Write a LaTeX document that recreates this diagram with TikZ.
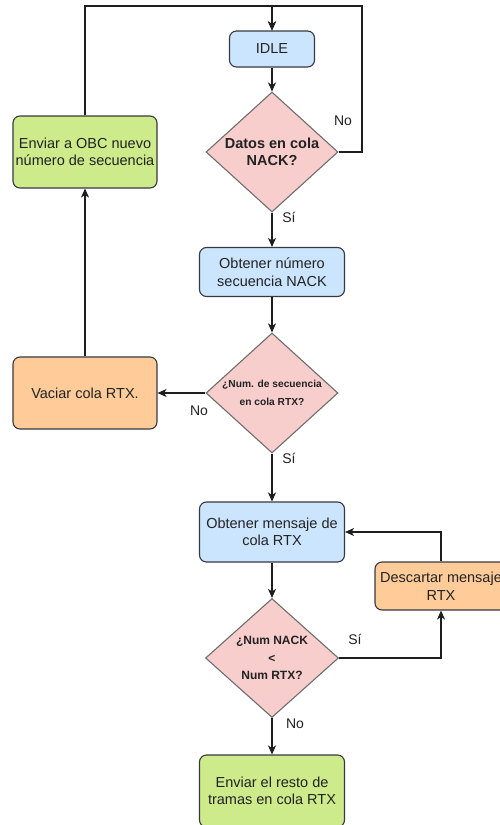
\documentclass[tikz,border=0pt]{standalone}
\usepackage{fontspec}
\setmainfont{Liberation Sans}
\usetikzlibrary{shapes.geometric,arrows.meta}

\definecolor{blueFill}{HTML}{CCE5FF}
\definecolor{greenFill}{HTML}{CDEB8B}
\definecolor{orangeFill}{HTML}{FFCC99}
\definecolor{pinkFill}{HTML}{F8CECC}
\definecolor{boxLine}{HTML}{36393D}
\definecolor{diaLine}{HTML}{6E6E6E}
\definecolor{txt}{HTML}{222222}
\definecolor{wire}{HTML}{1E1E1E}

\tikzset{
  proc/.style={draw=boxLine, line width=1.1pt, rounded corners=7pt,
    inner sep=0pt, align=center, text=txt,
    font=\fontsize{14.5}{17.5}\selectfont},
  bluebox/.style={proc, fill=blueFill},
  greenbox/.style={proc, fill=greenFill},
  orangebox/.style={proc, fill=orangeFill},
  decision/.style={diamond, draw=diaLine, fill=pinkFill, line width=1.1pt,
    inner sep=0pt, minimum width=132pt, minimum height=120pt},
  dtext/.style={align=center, text=txt, inner sep=0pt},
  wirepath/.style={draw=wire, line width=1.2pt},
  flow/.style={wirepath, -{Stealth[length=9pt,width=8pt,inset=2.5pt]}},
  tag/.style={text=txt, font=\fontsize{14}{16}\selectfont, inner sep=0pt}
}

\begin{document}
\begin{tikzpicture}[x=1pt,y=-1pt]
\useasboundingbox (0,0) rectangle (500,825);
\clip (0,0) rectangle (500,825);

% process boxes
\node[bluebox, minimum width=85pt, minimum height=36pt] (idle) at (272,49) {IDLE};
\node[greenbox, minimum width=144pt, minimum height=72pt] (obc) at (85,152)
  {Enviar a OBC nuevo\\número de secuencia};
\node[bluebox, minimum width=145pt, minimum height=49pt] (num) at (272,272)
  {Obtener número\\secuencia NACK};
\node[orangebox, minimum width=144pt, minimum height=72pt] (vac) at (85,393)
  {Vaciar cola RTX.};
\node[bluebox, minimum width=145pt, minimum height=60pt] (msg) at (272,532)
  {Obtener mensaje de\\cola RTX};
\node[orangebox, minimum width=132pt, minimum height=48pt] (desc) at (441,586)
  {Descartar mensaje\\RTX};
\node[greenbox, minimum width=145pt, minimum height=72pt] (rest) at (272,791)
  {Enviar el resto de\\tramas en cola RTX};

% decisions
\node[decision, label={[dtext, font=\bfseries\fontsize{14.5}{17.5}\selectfont]center:{Datos en cola\\NACK?}}]
  (d1) at (272,152) {};
\node[decision, label={[dtext, font=\bfseries\fontsize{10.2}{18}\selectfont]center:{¿Num. de secuencia\\en cola RTX?}}]
  (d2) at (272,393) {};
\node[decision, minimum width=133pt, minimum height=119pt,
  label={[dtext, font=\bfseries\fontsize{12}{17.5}\selectfont]center:{¿Num NACK\\<\\Num RTX?}}]
  (d3) at (272,658) {};

% loop-back corners along the top
\coordinate (topL) at (85,6);
\coordinate (topR) at (362,6);

% connectors
\draw[flow] (obc.north) -- (topL) -| (idle.north);
\draw[flow] (d1.east) -| (topR) -| (idle.north);
\draw[flow] (idle) -- (d1);
\draw[flow] (d1) -- (num);
\draw[flow] (num) -- (d2);
\draw[flow] (d2) -- (vac);
\draw[flow] (vac) -- (obc);
\draw[flow] (d2) -- (msg);
\draw[flow] (msg) -- (d3);
\draw[flow] (d3.east) -| (desc.south);
\draw[flow] (desc.north) |- (msg.east);
\draw[flow] (d3) -- (rest);

% branch labels
\node[tag] (l1) at (343,121) {No};
\node[tag] (l2) at (289,217) {Sí};
\node[tag] (l3) at (199,411) {No};
\node[tag] (l4) at (289,458) {Sí};
\node[tag] (l5) at (355,639) {Sí};
\node[tag] (l6) at (295,724) {No};
\end{tikzpicture}
\end{document}
